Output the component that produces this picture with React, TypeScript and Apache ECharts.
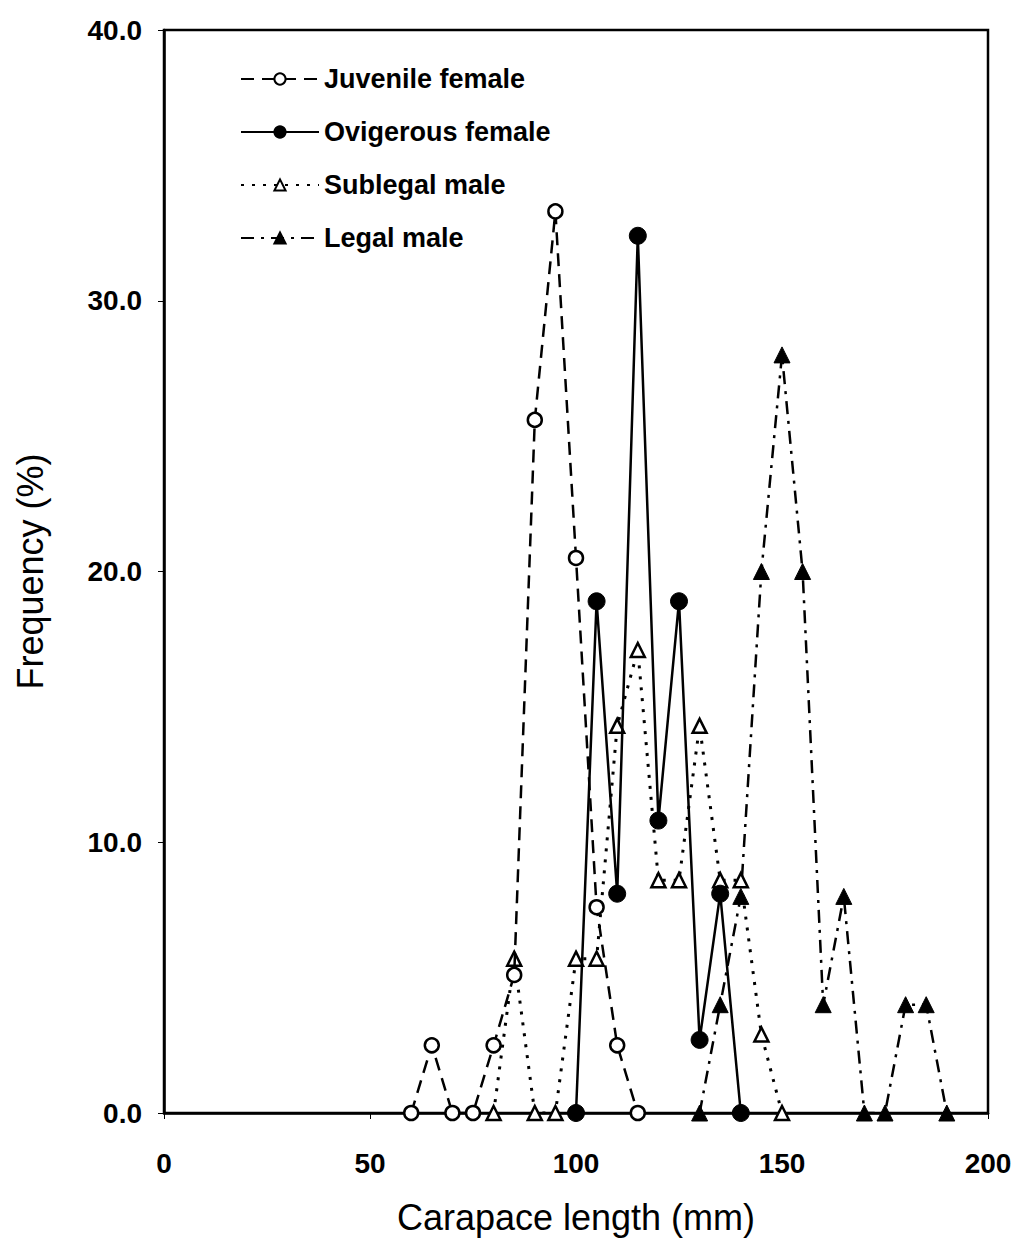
import React, { useEffect, useRef } from "react";
import * as echarts from "echarts";

const seriesNames = ["Juvenile female", "Ovigerous female", "Sublegal male", "Legal male"];

const juvenileX = [60, 65, 70, 75, 80, 85, 90, 95, 100, 105, 110, 115];
const juvenileY = [0, 2.5, 0, 0, 2.5, 5.1, 25.6, 33.3, 20.5, 7.6, 2.5, 0];

const ovigerousX = [100, 105, 110, 115, 120, 125, 130, 135, 140];
const ovigerousY = [0, 18.9, 8.1, 32.4, 10.8, 18.9, 2.7, 8.1, 0];

const sublegalX = [80, 85, 90, 95, 100, 105, 110, 115, 120, 125, 130, 135, 140, 145, 150];
const sublegalY = [0, 5.7, 0, 0, 5.7, 5.7, 14.3, 17.1, 8.6, 8.6, 14.3, 8.6, 8.6, 2.9, 0];

const legalX = [130, 135, 140, 145, 150, 155, 160, 165, 170, 175, 180, 185, 190];
const legalY = [0, 4, 8, 20, 28, 20, 4, 8, 0, 0, 4, 4, 0];

const xTicks = [0, 50, 100, 150, 200];
const yTicks = [0, 10, 20, 30, 40];

const FONT = "'Liberation Sans', Arial, sans-serif";

function pairs(xs: number[], ys: number[]) {
  return xs.map((x, i) => [x, ys[i]]);
}

export default function App() {
  const ref = useRef<HTMLDivElement>(null);
  useEffect(() => {
    if (!ref.current) return;
    const chart = echarts.init(ref.current, undefined, { renderer: "svg" });
    const lw = 2.5;
    chart.setOption({
      animation: false,
      backgroundColor: "#fff",
      grid: {
        left: 164,
        right: 32,
        top: 30,
        bottom: 134,
        show: true,
        borderColor: "#000",
        borderWidth: 2.5,
      },
      legend: {
        data: seriesNames,
        orient: "vertical",
        left: 235,
        top: 59,
        itemWidth: 78,
        itemHeight: 14,
        itemGap: 23,
        textStyle: { fontFamily: FONT, fontSize: 27, fontWeight: "bold", color: "#000", lineHeight: 30 },
      },
      xAxis: {
        type: "value",
        min: xTicks[0],
        max: xTicks[xTicks.length - 1],
        interval: 50,
        name: "Carapace length (mm)",
        nameLocation: "middle",
        nameGap: 86,
        nameTextStyle: { fontFamily: FONT, fontSize: 36, fontWeight: "normal", color: "#000" },
        axisLine: { show: true, lineStyle: { color: "#000", width: 2.5 } },
        axisTick: { show: true, length: 6, inside: false, lineStyle: { color: "#000", width: 1 } },
        axisLabel: {
          margin: 36,
          fontFamily: FONT,
          fontSize: 28,
          fontWeight: "bold",
          color: "#000",
          formatter: (v: number) => String(v),
        },
        splitLine: { show: false },
      },
      yAxis: {
        type: "value",
        min: yTicks[0],
        max: yTicks[yTicks.length - 1],
        interval: 10,
        name: "Frequency (%)",
        nameLocation: "middle",
        nameGap: 116,
        nameTextStyle: { fontFamily: FONT, fontSize: 36, fontWeight: "normal", color: "#000" },
        axisLine: { show: true, lineStyle: { color: "#000", width: 2.5 } },
        axisTick: { show: true, length: 6, lineStyle: { color: "#000", width: 1 } },
        axisLabel: {
          margin: 22,
          fontFamily: FONT,
          fontSize: 28,
          fontWeight: "bold",
          color: "#000",
          formatter: (v: number) => v.toFixed(1),
        },
        splitLine: { show: false },
      },
      series: [
        {
          name: seriesNames[0],
          type: "line",
          data: pairs(juvenileX, juvenileY),
          symbol: "circle",
          symbolSize: 14,
          showAllSymbol: true,
          itemStyle: { color: "#fff", borderColor: "#000", borderWidth: 2.5 },
          lineStyle: { color: "#000", width: lw, type: [13, 8] },
          z: 4,
        },
        {
          name: seriesNames[1],
          type: "line",
          data: pairs(ovigerousX, ovigerousY),
          symbol: "circle",
          symbolSize: 17,
          itemStyle: { color: "#000", borderColor: "#000", borderWidth: 1 },
          lineStyle: { color: "#000", width: lw, type: "solid" },
          z: 3,
        },
        {
          name: seriesNames[2],
          type: "line",
          data: pairs(sublegalX, sublegalY),
          symbol: "triangle",
          symbolSize: 14,
          itemStyle: { color: "#fff", borderColor: "#000", borderWidth: 2.5 },
          lineStyle: { color: "#000", width: 3, type: [3, 8] },
          z: 2,
        },
        {
          name: seriesNames[3],
          type: "line",
          data: pairs(legalX, legalY),
          symbol: "triangle",
          symbolSize: 16,
          itemStyle: { color: "#000", borderColor: "#000", borderWidth: 1 },
          lineStyle: { color: "#000", width: lw, type: [13, 7, 3, 7] },
          z: 2,
        },
      ],
    });
    return () => chart.dispose();
  }, []);
  return (
    <div
      ref={ref}
      style={{ position: "absolute", left: 0, top: 0, width: 1020, height: 1247, background: "#fff" }}
    />
  );
}
